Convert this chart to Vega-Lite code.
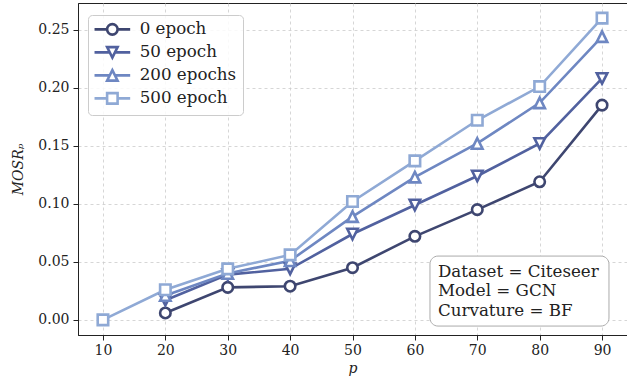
{
  "$schema": "https://vega.github.io/schema/vega-lite/v6.json",
  "width": 549,
  "height": 332,
  "autosize": "none",
  "padding": {"left": 78, "top": 3, "right": 0, "bottom": 47},
  "background": "white",
  "config": {
    "font": "DejaVu Serif",
    "view": {"stroke": "#222222", "strokeWidth": 1},
    "axis": {
      "labelFont": "DejaVu Serif",
      "labelFontSize": 14,
      "labelColor": "#222222",
      "titleFont": "DejaVu Serif",
      "titleFontSize": 14,
      "titleFontStyle": "italic",
      "titleFontWeight": "normal",
      "titleColor": "#222222",
      "domainColor": "#222222",
      "tickColor": "#222222",
      "tickSize": 5,
      "gridColor": "#cccccc",
      "gridDash": [3, 3],
      "gridWidth": 0.8
    },
    "legend": {
      "title": null,
      "orient": "none",
      "legendX": 10,
      "legendY": 12,
      "labelFont": "DejaVu Serif",
      "labelFontSize": 16.7,
      "labelColor": "#222222",
      "symbolSize": 110,
      "symbolStrokeWidth": 2.6,
      "symbolOffset": 10,
      "labelOffset": 19,
      "rowPadding": 1,
      "padding": 6,
      "fillColor": "rgba(255,255,255,0.85)",
      "strokeColor": "#cccccc",
      "cornerRadius": 4
    }
  },
  "datasets": {
    "series": [
      {"p": 20, "v": 0.006, "s": "0 epoch"},
      {"p": 30, "v": 0.028, "s": "0 epoch"},
      {"p": 40, "v": 0.029, "s": "0 epoch"},
      {"p": 50, "v": 0.045, "s": "0 epoch"},
      {"p": 60, "v": 0.072, "s": "0 epoch"},
      {"p": 70, "v": 0.095, "s": "0 epoch"},
      {"p": 80, "v": 0.119, "s": "0 epoch"},
      {"p": 90, "v": 0.185, "s": "0 epoch"},
      {"p": 20, "v": 0.017, "s": "50 epoch"},
      {"p": 30, "v": 0.039, "s": "50 epoch"},
      {"p": 40, "v": 0.044, "s": "50 epoch"},
      {"p": 50, "v": 0.074, "s": "50 epoch"},
      {"p": 60, "v": 0.099, "s": "50 epoch"},
      {"p": 70, "v": 0.124, "s": "50 epoch"},
      {"p": 80, "v": 0.152, "s": "50 epoch"},
      {"p": 90, "v": 0.208, "s": "50 epoch"},
      {"p": 20, "v": 0.021, "s": "200 epochs"},
      {"p": 30, "v": 0.040, "s": "200 epochs"},
      {"p": 40, "v": 0.051, "s": "200 epochs"},
      {"p": 50, "v": 0.089, "s": "200 epochs"},
      {"p": 60, "v": 0.123, "s": "200 epochs"},
      {"p": 70, "v": 0.152, "s": "200 epochs"},
      {"p": 80, "v": 0.187, "s": "200 epochs"},
      {"p": 90, "v": 0.244, "s": "200 epochs"},
      {"p": 10, "v": 0.000, "s": "500 epoch"},
      {"p": 20, "v": 0.026, "s": "500 epoch"},
      {"p": 30, "v": 0.044, "s": "500 epoch"},
      {"p": 40, "v": 0.056, "s": "500 epoch"},
      {"p": 50, "v": 0.102, "s": "500 epoch"},
      {"p": 60, "v": 0.137, "s": "500 epoch"},
      {"p": 70, "v": 0.172, "s": "500 epoch"},
      {"p": 80, "v": 0.201, "s": "500 epoch"},
      {"p": 90, "v": 0.260, "s": "500 epoch"}
    ]
  },
  "layer": [
    {
      "data": {"name": "series"},
      "mark": {"type": "line", "strokeWidth": 2.6},
      "encoding": {
        "x": {"field": "p", "type": "quantitative", "scale": {"domain": [6, 94], "nice": false, "zero": false},
              "axis": {"title": "p", "values": [10, 20, 30, 40, 50, 60, 70, 80, 90], "labelPadding": 3, "titlePadding": 4}},
        "y": {"field": "v", "type": "quantitative", "scale": {"domain": [-0.013, 0.273], "nice": false, "zero": false},
              "axis": {"title": "MOSRₚ", "values": [0, 0.05, 0.1, 0.15, 0.2, 0.25], "format": ".2f", "labelPadding": 4, "titlePadding": 12}},
        "color": {"field": "s", "type": "nominal",
                  "scale": {"domain": ["0 epoch", "50 epoch", "200 epochs", "500 epoch"], "range": ["#3e4670", "#51619f", "#6e87c2", "#8fa9d5"]},
                  "legend": null},
        "detail": {"field": "s"}
      }
    },
    {
      "data": {"name": "series"},
      "mark": {"type": "point", "filled": false, "fill": "white", "fillOpacity": 1, "opacity": 1, "strokeWidth": 2.6, "size": 110},
      "encoding": {
        "x": {"field": "p", "type": "quantitative"},
        "y": {"field": "v", "type": "quantitative"},
        "color": {"field": "s", "type": "nominal", "legend": null},
        "shape": {"field": "s", "type": "nominal",
                  "scale": {"domain": ["0 epoch", "50 epoch", "200 epochs", "500 epoch"],
                            "range": ["circle", "M0,1L1,-1L-1,-1Z", "M0,-1L1,1L-1,1Z", "square"]},
                  "legend": null}
      }
    },
    {
      "data": {"name": "series"},
      "mark": {"type": "point", "opacity": 0, "size": 110},
      "encoding": {
        "x": {"field": "p", "type": "quantitative"},
        "y": {"field": "v", "type": "quantitative"},
        "color": {"field": "s", "type": "nominal", "legend": null},
        "shape": {"field": "s", "type": "nominal",
                  "scale": {"domain": ["0 epoch", "50 epoch", "200 epochs", "500 epoch"],
                            "range": [
                              "M-3.4,0H-1M1,0H3.4M1,0A1,1 0 1,1 -1,0A1,1 0 1,1 1,0Z",
                              "M-3.4,0H-0.5M0.5,0H3.4M0,1L1,-1L-1,-1Z",
                              "M-3.4,0H-0.5M0.5,0H3.4M0,-1L1,1L-1,1Z",
                              "M-3.4,0H-1M1,0H3.4M-1,-1H1V1H-1Z"
                            ]},
                  "legend": {
                    "symbolStrokeColor": {"expr": "scale('color', datum.value)"},
                    "symbolFillColor": "white",
                    "symbolOpacity": 1
                  }}
      }
    },
    {
      "data": {"values": [{}]},
      "mark": {"type": "rect", "fill": "white", "stroke": "#aaaaaa", "strokeWidth": 1, "cornerRadius": 8},
      "encoding": {
        "x": {"datum": 62.42, "type": "quantitative"},
        "x2": {"datum": 91.11},
        "y": {"datum": 0.055, "type": "quantitative"},
        "y2": {"datum": -0.0053}
      }
    },
    {
      "data": {"values": [{"t": "Dataset = Citeseer\nModel = GCN\nCurvature = BF"}]},
      "mark": {"type": "text", "align": "left", "baseline": "alphabetic", "font": "DejaVu Serif", "fontSize": 16.7, "lineHeight": 19.5, "lineBreak": "\n", "color": "#222222"},
      "encoding": {
        "x": {"datum": 63.7, "type": "quantitative"},
        "y": {"datum": 0.037, "type": "quantitative"},
        "text": {"field": "t"}
      }
    }
  ],
  "resolve": {"scale": {"shape": "independent"}}
}
